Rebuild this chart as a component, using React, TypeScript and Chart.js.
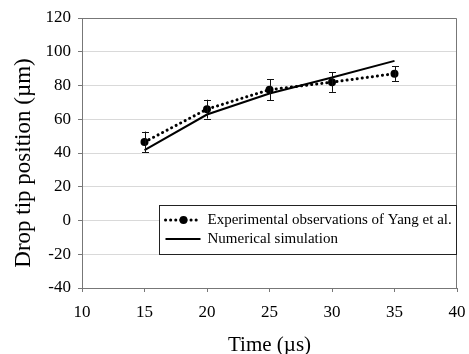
import React, { useEffect, useRef } from "react";
import { Chart, registerables } from "chart.js";

Chart.register(...registerables);

const times = [15, 20, 25, 30, 35];
const experimental = [46.5, 66, 77.5, 82, 87];
const experimentalError = [6.2, 5.6, 6.2, 5.8, 4.3];
const simulation = [41.7, 62.8, 75.3, 84.7, 94.6];
const seriesLabels = ["Experimental observations of Yang et al.", "Numerical simulation"];
const xTitle = "Time (µs)";
const yTitle = "Drop tip position (µm)";
const xRange = [10, 40, 5];
const yRange = [-40, 120, 20];

const FONT = "'Liberation Serif', 'Times New Roman', serif";

const errorBarPlugin = {
  id: "errorBars",
  afterDatasetsDraw(chart: any) {
    const { ctx, scales } = chart;
    const xs = scales.x;
    const ys = scales.y;
    ctx.save();
    ctx.strokeStyle = "#111";
    ctx.lineWidth = 1;
    times.forEach((t, i) => {
      const x = Math.round(xs.getPixelForValue(t)) + 0.5;
      const yt = ys.getPixelForValue(experimental[i] + experimentalError[i]);
      const yb = ys.getPixelForValue(experimental[i] - experimentalError[i]);
      ctx.beginPath();
      ctx.moveTo(x, yt);
      ctx.lineTo(x, yb);
      ctx.moveTo(x - 3.5, Math.round(yt) + 0.5);
      ctx.lineTo(x + 3.5, Math.round(yt) + 0.5);
      ctx.moveTo(x - 3.5, Math.round(yb) + 0.5);
      ctx.lineTo(x + 3.5, Math.round(yb) + 0.5);
      ctx.stroke();
    });
    ctx.restore();
  },
};

const framePlugin = {
  id: "frame",
  beforeDatasetsDraw(chart: any) {
    const { ctx, chartArea } = chart;
    ctx.save();
    ctx.strokeStyle = "#777";
    ctx.lineWidth = 1;
    ctx.beginPath();
    ctx.moveTo(chartArea.left, chartArea.top + 0.5);
    ctx.lineTo(chartArea.right - 0.5, chartArea.top + 0.5);
    ctx.lineTo(chartArea.right - 0.5, chartArea.bottom);
    ctx.stroke();
    ctx.restore();
  },
};

const yTitlePlugin = {
  id: "yTitle",
  afterDraw(chart: any) {
    const { ctx, chartArea } = chart;
    ctx.save();
    ctx.translate(24, (chartArea.top + chartArea.bottom) / 2 + 10);
    ctx.rotate(-Math.PI / 2);
    ctx.font = `23px ${FONT}`;
    ctx.fillStyle = "#000";
    ctx.textAlign = "center";
    ctx.textBaseline = "middle";
    ctx.fillText(yTitle, 0, 0);
    ctx.restore();
  },
};

const legendPlugin = {
  id: "boxLegend",
  afterDraw(chart: any) {
    const { ctx, chartArea } = chart;
    const right = chartArea.right - 0.5;
    const left = right - 297;
    const bottom = chartArea.bottom - 33.5;
    const top = bottom - 49;
    ctx.save();
    ctx.fillStyle = "#fff";
    ctx.fillRect(left, top, right - left, bottom - top);
    ctx.strokeStyle = "#222";
    ctx.lineWidth = 1;
    ctx.strokeRect(left, top, right - left, bottom - top);
    const y1 = top + 14.5;
    const y2 = top + 33.5;
    ctx.strokeStyle = "#000";
    ctx.lineWidth = 3;
    ctx.lineCap = "round";
    ctx.setLineDash([0.1, 5]);
    ctx.beginPath();
    ctx.moveTo(left + 6, y1);
    ctx.lineTo(left + 41, y1);
    ctx.stroke();
    ctx.setLineDash([]);
    ctx.fillStyle = "#000";
    ctx.beginPath();
    ctx.arc(left + 24, y1, 4, 0, Math.PI * 2);
    ctx.fill();
    ctx.lineCap = "butt";
    ctx.lineWidth = 2;
    ctx.beginPath();
    ctx.moveTo(left + 6, y2);
    ctx.lineTo(left + 41, y2);
    ctx.stroke();
    ctx.font = `15px ${FONT}`;
    ctx.textBaseline = "middle";
    ctx.textAlign = "left";
    ctx.fillText(seriesLabels[0], left + 48, y1);
    ctx.fillText(seriesLabels[1], left + 48, y2);
    ctx.restore();
  },
};

export default function App() {
  const ref = useRef<HTMLCanvasElement | null>(null);
  useEffect(() => {
    if (!ref.current) return;
    Chart.defaults.font.family = FONT;
    Chart.defaults.color = "#000";
    const chart = new Chart(ref.current, {
      type: "line",
      data: {
        datasets: [
          {
            label: seriesLabels[1],
            data: times.map((t, i) => ({ x: t, y: simulation[i] })),
            borderColor: "#000",
            borderWidth: 2,
            pointRadius: 0,
            tension: 0,
            fill: false,
          },
          {
            label: seriesLabels[0],
            data: times.map((t, i) => ({ x: t, y: experimental[i] })),
            borderColor: "#000",
            backgroundColor: "#000",
            borderWidth: 3,
            borderDash: [0.1, 5],
            borderCapStyle: "round",
            pointRadius: 4,
            pointBackgroundColor: "#000",
            pointBorderWidth: 0,
            tension: 0,
            fill: false,
          },
        ],
      },
      options: {
        animation: false,
        responsive: false,
        maintainAspectRatio: false,
        layout: { padding: { top: 18, right: 12, left: 0, bottom: 0 } },
        plugins: { legend: { display: false }, tooltip: { enabled: false } },
        scales: {
          x: {
            type: "linear",
            min: xRange[0],
            max: xRange[1],
            ticks: { stepSize: xRange[2], font: { size: 17 }, color: "#000", padding: 10 },
            grid: { drawOnChartArea: false, drawTicks: true, tickLength: 4, tickColor: "#777" },
            border: { color: "#777", width: 1 },
            title: { display: true, text: xTitle, font: { size: 21, lineHeight: 1 }, color: "#000", padding: { top: 0, bottom: -2 } },
            afterFit: (s: any) => { s.height = 66; s.paddingLeft = 0; s.paddingRight = 0; },
          },
          y: {
            type: "linear",
            min: yRange[0],
            max: yRange[1],
            ticks: { stepSize: yRange[2], font: { size: 17 }, color: "#000", padding: 7 },
            grid: { color: "#d9d9d9", tickColor: "#777", tickLength: 4 },
            border: { color: "#777", width: 1 },
            title: { display: false },
            afterFit: (s: any) => { s.width = 82; s.paddingTop = 0; s.paddingBottom = 0; },
          },
        },
      } as any,
      plugins: [framePlugin, errorBarPlugin, legendPlugin, yTitlePlugin],
    });
    return () => chart.destroy();
  }, []);
  return (
    <div style={{ position: "fixed", left: 0, top: 0, width: 469, height: 354, background: "#fff" }}>
      <canvas ref={ref} width={469} height={354} style={{ display: "block", width: 469, height: 354 }} />
    </div>
  );
}
